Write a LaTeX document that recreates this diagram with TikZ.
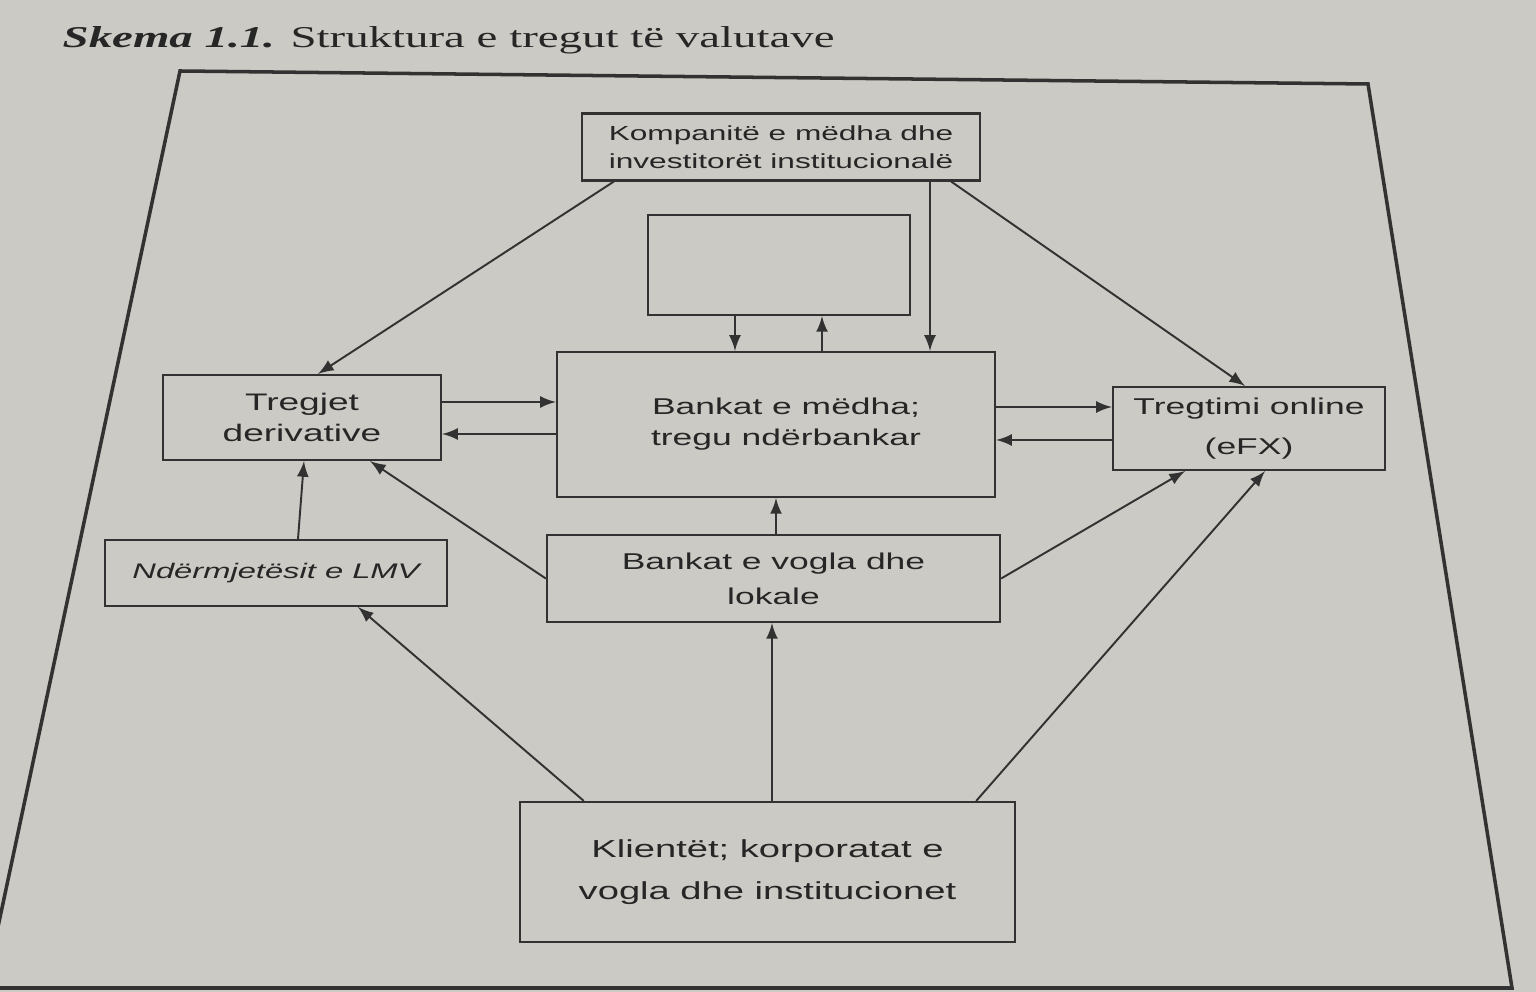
\documentclass[tikz,border=0pt]{standalone}
\usepackage{fontspec}
\setmainfont{Liberation Sans}[FakeStretch=1.55]
\newfontfamily\titlefont{Liberation Serif}[FakeStretch=1.55]
\usetikzlibrary{calc}
\definecolor{paper}{RGB}{204,202,196}
\definecolor{ink}{RGB}{50,50,50}

\begin{document}
\begin{tikzpicture}[x=0.01cm, y=-0.01cm,
  box/.style={draw=ink, line width=0.6pt, inner sep=0pt, align=center, text=black!85},
  link/.style={-latex, draw=ink, line width=0.55pt}]
\useasboundingbox [fill=paper] (0,0) rectangle (1536,992);
\clip (0,0) rectangle (1536,992);
%
\node [anchor=base west, inner sep=0pt, text=black!85, font=\titlefont\fontsize{8.6}{10}\selectfont] (titulli) at (62,48) {\textbf{\textit{Skema 1.1.}} Struktura e tregut të valutave};
\draw [ink, line width=1pt] (180,71) -- (1368,84) -- (1512,988) -- (-15,988) -- cycle;
%
\node [box, minimum width=3.98cm, minimum height=0.67cm, font=\fontsize{5.8}{8}\selectfont] (komp) at (781,147) {Kompanitë e mëdha dhe\\investitorët institucionalë};
\node [box, minimum width=2.62cm, minimum height=1.00cm] (bosh) at (779,265) {};
\node [box, minimum width=2.78cm, minimum height=0.85cm, font=\fontsize{6.8}{9}\selectfont] (deriv) at (302,417.5) {Tregjet\\derivative};
\node [box, minimum width=4.38cm, minimum height=1.45cm, font=\fontsize{6.5}{8.8}\selectfont] (big) at (776,424.5) {\hspace*{0.2cm}Bankat e mëdha;\\\hspace*{0.2cm}tregu ndërbankar};
\node [box, minimum width=2.72cm, minimum height=0.83cm, font=\fontsize{6.5}{11.4}\selectfont] (efx) at (1249,428.5) {Tregtimi online\\(eFX)};
\node [box, minimum width=3.42cm, minimum height=0.66cm, font=\fontsize{6}{8}\selectfont\itshape] (lmv) at (276,573) {Ndërmjetësit e LMV};
\node [box, minimum width=4.53cm, minimum height=0.87cm, font=\fontsize{6.5}{10}\selectfont] (vogla) at (773.5,578.5) {Bankat e vogla dhe\\lokale};
\node [box, minimum width=4.95cm, minimum height=1.40cm, font=\fontsize{7}{12}\selectfont] (klient) at (767.5,872) {Klientët; korporatat e\\vogla dhe institucionet};
%
\draw [link] ($(komp.south west)+(33,0)$) -- ($(deriv.north)+(16,0)$);
\draw [link] ($(komp.south)+(149,0)$) -- ($(big.north)+(154,0)$);
\draw [link] ($(komp.south east)+(-30,0)$) -- ($(efx.north)+(-4,0)$);
\draw [link] ($(bosh.south)+(-44,0)$) -- ($(big.north)+(-41,0)$);
\draw [link] ($(big.north)+(46,0)$) -- ($(bosh.south)+(43,0)$);
\draw [link] ($(deriv.east)+(0,-15.5)$) -- ($(big.west)+(0,-22.5)$);
\draw [link] ($(big.west)+(0,9.5)$) -- ($(deriv.east)+(0,16.5)$);
\draw [link] ($(big.east)+(0,-17.5)$) -- ($(efx.west)+(0,-21.5)$);
\draw [link] ($(efx.west)+(0,11.5)$) -- ($(big.east)+(0,15.5)$);
\draw [link] ($(lmv.north)+(22,0)$) -- ($(deriv.south)+(2,0)$);
\draw [link] (vogla.west) -- ($(deriv.south)+(68,0)$);
\draw [link] ($(vogla.north)+(2.5,0)$) -- (big.south);
\draw [link] (vogla.east) -- ($(efx.south)+(-64,0)$);
\draw [link] ($(klient.north west)+(65,0)$) -- ($(lmv.south)+(82,0)$);
\draw [link] ($(klient.north)+(4.5,0)$) -- ($(vogla.south)+(-1.5,0)$);
\draw [link] ($(klient.north east)+(-40,0)$) -- ($(efx.south)+(16,0)$);
%
\end{tikzpicture}
\end{document}
